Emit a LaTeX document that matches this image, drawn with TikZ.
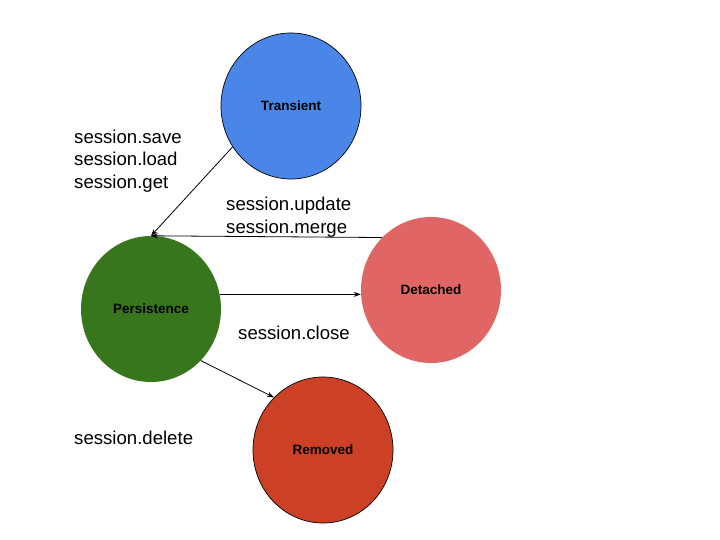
\documentclass[tikz,border=0pt]{standalone}
\usepackage{fontspec}
\setmainfont{Liberation Sans}
\usetikzlibrary{shapes.geometric,arrows.meta}
\definecolor{cblue}{HTML}{4A86E8}
\definecolor{cgreen}{HTML}{38761D}
\definecolor{cpink}{HTML}{E06666}
\definecolor{cred}{HTML}{CC4125}
\tikzset{
  state/.style={ellipse, minimum width=140pt, minimum height=146pt, inner sep=0pt,
    font=\fontsize{13.5}{15}\selectfont\bfseries, text=black},
  conn/.style={-{Stealth[length=7pt,width=5pt]}, line width=0.8pt, draw=black},
  lbl/.style={anchor=west, align=left, inner sep=0pt, font=\fontsize{18.6}{22.7}\selectfont}
}
\begin{document}
\begin{tikzpicture}[x=1pt,y=-1pt]
\useasboundingbox (0,0) rectangle (720,540);
\fill[white] (0,0) rectangle (720,540);
\node[state, fill=cblue, draw=black, line width=0.7pt] (t) at (291,106) {Transient};
\node[state, fill=cgreen] (p) at (151,309) {Persistence};
\node[state, fill=cpink] (d) at (431,290) {Detached};
\node[state, fill=cred, draw=black, line width=0.7pt] (r) at (323,450) {Removed};
\draw[conn] (t.215) -- (p.north);
\draw[conn] (d.133) -- (p.north);
\draw[conn] (p.12) -- (p.12 -| d.west);
\draw[conn] (p.314) -- (r.133);
\node[lbl] (l1) at (74,161) {session.save\\session.load\\session.get};
\node[lbl] (l2) at (226,217.5) {session.update\\session.merge};
\node[lbl] (l3) at (238,333) {session.close};
\node[lbl] (l4) at (74,438) {session.delete};
\end{tikzpicture}
\end{document}
